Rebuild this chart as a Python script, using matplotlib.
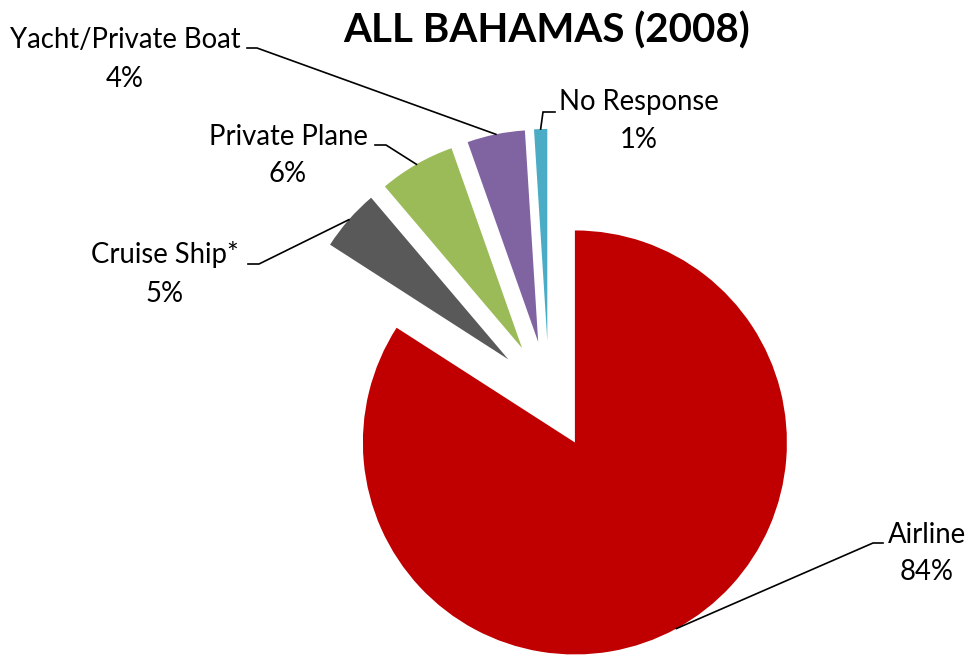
import numpy as np
import matplotlib
matplotlib.use("Agg")
import matplotlib.pyplot as plt

# Arrival mode shares, all islands, 2008
modes = ["Airline", "Cruise Ship*", "Private Plane", "Yacht/Private Boat", "No Response"]
shares = [84.1, 4.7, 5.8, 4.4, 1.0]
pct_labels = ["84%", "5%", "6%", "4%", "1%"]
colors = ["#C00000", "#595959", "#9BBB59", "#8064A2", "#4BACC6"]

plt.rcParams["font.family"] = ["Lato", "DejaVu Sans"]

W, H = 975, 656
SCALE = 212.0          # pixels per unit of pie radius
CX, CY = 549.0, 395.0  # pie centre in image pixels (top-left origin)


def to_data(xp, yp):
    return (xp - CX) / SCALE, (CY - yp) / SCALE


fig = plt.figure(figsize=(W / 100, H / 100), dpi=100)
ax = fig.add_axes([0, 0, 1, 1])

wedges, _ = ax.pie(shares, explode=[0.255] * len(shares), startangle=90,
                   counterclock=False, colors=colors, radius=1.0,
                   wedgeprops=dict(linewidth=0))

x0, y1 = to_data(0, 0)
x1, y0 = to_data(W, H)
ax.set_xlim(x0, x1)
ax.set_ylim(y0, y1)
ax.set_aspect("equal", adjustable="box")
ax.axis("off")

# label text placement (centre x, name baseline, pct baseline) and elbow of leader line
label_pos = {
    "Airline": (927, 543, 580, (883, 543), (873, 543)),
    "Cruise Ship*": (165, 263, 302, (248, 264), (259, 264)),
    "Private Plane": (288, 145, 182, (375, 145), (386, 145)),
    "Yacht/Private Boat": (125, 48, 87, (247, 48), (257, 48)),
    "No Response": (639, 110, 148, (555, 112), (543, 112)),
}

fs = 19.8
for w, name, pct in zip(wedges, modes, pct_labels):
    xc, yb1, yb2, e1, e2 = label_pos[name]
    ax.text(*to_data(xc, yb1), name, ha="center", va="baseline", fontsize=fs)
    ax.text(*to_data(xc, yb2), pct, ha="center", va="baseline", fontsize=fs)
    # leader from the arc midpoint of the wedge to the label
    tm = np.deg2rad(0.5 * (w.theta1 + w.theta2))
    ax_, ay_ = w.center[0] + w.r * np.cos(tm), w.center[1] + w.r * np.sin(tm)
    p1 = to_data(*e1)
    p2 = to_data(*e2)
    ax.plot([p1[0], p2[0], ax_], [p1[1], p2[1], ay_], color="black",
            lw=1.2, clip_on=False, solid_joinstyle="miter")

ax.text(*to_data(547, 43), "ALL BAHAMAS (2008)", ha="center", va="baseline",
        fontsize=29, fontweight="bold")

fig.savefig("out.png", dpi=100)
